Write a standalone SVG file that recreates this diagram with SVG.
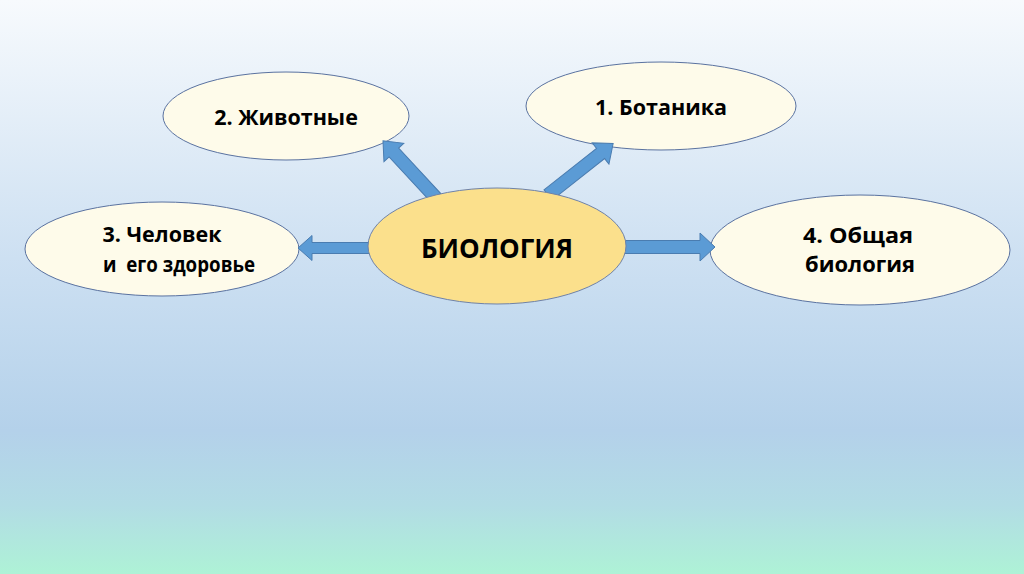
<svg xmlns="http://www.w3.org/2000/svg" width="1024" height="574" viewBox="0 0 1024 574">
<defs>
<linearGradient id="bg" x1="0" y1="0" x2="0" y2="1">
<stop offset="0" stop-color="#f7fafd"/>
<stop offset="0.45" stop-color="#cde0f2"/>
<stop offset="0.75" stop-color="#b4d1ea"/>
<stop offset="0.88" stop-color="#b2dce5"/>
<stop offset="1" stop-color="#aef2d6"/>
</linearGradient>
</defs>
<style>
.node{fill:#fefbea;stroke:#5a72a0;stroke-width:1}
.center{fill:#fbe08c;stroke:#6f82a8;stroke-width:1}
.lbl{font-family:"Open Sans","Noto Sans","DejaVu Sans",sans-serif;font-weight:bold;fill:#000;text-anchor:middle}
.arrow{fill:#5b9bd5;stroke:#4a7cb0;stroke-width:1}
</style>
<rect width="1024" height="574" fill="url(#bg)"/>
<g id="node-animals">
<ellipse class="node" cx="286" cy="116" rx="123" ry="44"/>
<text class="lbl" x="286" y="125" font-size="21.5">2. Животные</text>
</g>
<g id="node-botany">
<ellipse class="node" cx="661" cy="106" rx="135" ry="44"/>
<text class="lbl" x="661" y="115" font-size="21.5">1. Ботаника</text>
</g>
<g id="node-human">
<ellipse class="node" cx="162" cy="249" rx="137" ry="47"/>
<text class="lbl" x="162" y="242" font-size="21.5">3. Человек</text>
<text class="lbl" x="179" y="272" font-size="21.5" textLength="152" lengthAdjust="spacingAndGlyphs" xml:space="preserve">и  его здоровье</text>
</g>
<g id="node-general">
<ellipse class="node" cx="860" cy="250" rx="150" ry="55"/>
<text class="lbl" x="858" y="243" font-size="22" textLength="110" lengthAdjust="spacingAndGlyphs">4. Общая</text>
<text class="lbl" x="860" y="272" font-size="22" textLength="110" lengthAdjust="spacingAndGlyphs">биология</text>
</g>
<g id="connectors">
<polygon class="arrow" transform="translate(372,248) rotate(180)" points="0,-5.5 60,-5.5 60,-12.5 74,0 60,12.5 60,5.5 0,5.5"/>
<polygon class="arrow" transform="translate(620,247)" points="0,-6.5 80,-6.5 80,-14 95,0 80,14 80,6.5 0,6.5"/>
<polygon class="arrow" transform="translate(436,198) rotate(-132.8)" points="0,-6.5 62,-6.5 62,-13.5 78,0 62,13.5 62,6.5 0,6.5"/>
<polygon class="arrow" transform="translate(548,195) rotate(-38.3)" points="0,-6.5 67,-6.5 67,-13.5 83,0 67,13.5 67,6.5 0,6.5"/>
</g>
<g id="node-biology">
<ellipse class="center" cx="497" cy="246" rx="129" ry="58"/>
<text class="lbl" x="497" y="258" font-size="26">БИОЛОГИЯ</text>
</g>
</svg>
